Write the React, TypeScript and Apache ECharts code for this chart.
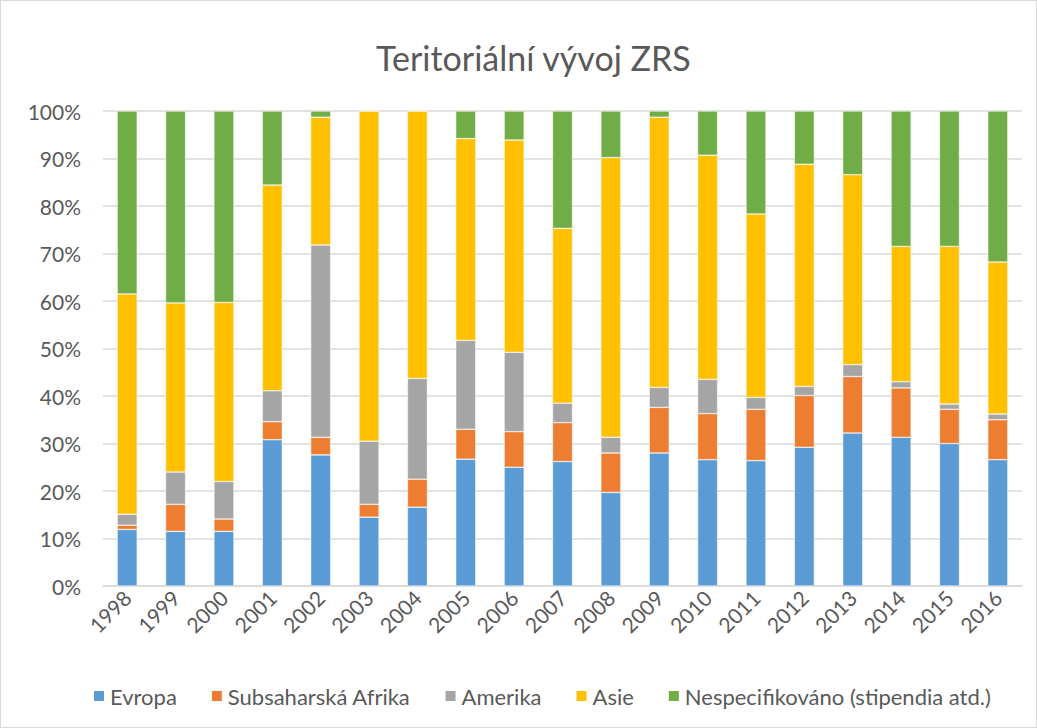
import React, { useEffect, useRef } from "react";
import * as echarts from "echarts";

const years = ["1998","1999","2000","2001","2002","2003","2004","2005","2006","2007","2008","2009","2010","2011","2012","2013","2014","2015","2016"];
const evropa = [11.9,11.5,11.5,30.8,27.6,14.5,16.6,26.7,25.0,26.2,19.7,28.0,26.6,26.4,29.2,32.2,31.3,30.0,26.6];
const afrika = [0.9,5.7,2.6,3.8,3.7,2.7,5.9,6.3,7.5,8.2,8.3,9.6,9.7,10.8,10.9,11.9,10.4,7.2,8.4];
const amerika = [2.3,6.8,7.9,6.5,40.5,13.3,21.2,18.7,16.7,4.1,3.3,4.2,7.2,2.5,1.9,2.5,1.3,1.1,1.2];
const asie = [46.4,35.6,37.7,43.3,26.9,69.5,56.3,42.5,44.7,36.8,58.9,56.9,47.2,38.6,46.8,40.0,28.5,33.2,32.0];
const nespec = [38.5,40.4,40.3,15.6,1.3,0,0,5.8,6.1,24.7,9.8,1.3,9.3,21.7,11.2,13.4,28.5,28.5,31.8];

const seriesNames = ["Evropa","Subsaharská Afrika","Amerika","Asie","Nespecifikováno (stipendia atd.)"];
const seriesData = [evropa, afrika, amerika, asie, nespec];
const colors = ["#5b9bd5","#ed7d31","#a5a5a5","#ffc000","#70ad47"];

export default function App() {
  const ref = useRef<HTMLDivElement>(null);
  useEffect(() => {
    if (!ref.current) return;
    const chart = echarts.init(ref.current, null, { renderer: "svg" });
    const font = "Lato, 'Open Sans', sans-serif";
    chart.setOption({
      animation: false,
      backgroundColor: "#ffffff",
      title: {
        text: "Teritoriální vývoj ZRS",
        left: 370,
        top: 34,
        textStyle: { fontFamily: font, fontSize: 34, fontWeight: "normal", color: "#595959" },
      },
      legend: {
        bottom: 15,
        left: 86,
        itemWidth: 12,
        itemHeight: 12,
        itemGap: 33,
        icon: "rect",
        textStyle: { fontFamily: font, fontSize: 22, color: "#595959" },
        data: seriesNames,
      },
      grid: { left: 102, right: 14, top: 110, bottom: 141, containLabel: false },
      xAxis: {
        type: "category",
        data: years,
        axisLine: { lineStyle: { color: "#d9d9d9", width: 1.5 } },
        axisTick: { show: false },
        axisLabel: { rotate: 45, fontFamily: font, fontSize: 21, color: "#595959", margin: 8 },
      },
      yAxis: {
        type: "value",
        min: 0,
        max: 100,
        interval: 10,
        axisLine: { show: false },
        axisTick: { show: false },
        splitLine: { lineStyle: { color: "#d9d9d9", width: 1.5 } },
        axisLabel: { formatter: "{value}%", fontFamily: font, fontSize: 21, color: "#595959", margin: 22 },
      },
      series: seriesNames.map((name, i) => ({
        name,
        type: "bar",
        stack: "total",
        barWidth: 20,
        data: seriesData[i],
        itemStyle: { color: colors[i], borderColor: "#ffffff", borderWidth: 0.5 },
      })),
    });
    return () => chart.dispose();
  }, []);
  return (
    <div
      ref={ref}
      style={{ position: "fixed", left: 0, top: 0, width: 1037, height: 728, boxSizing: "border-box", border: "1px solid #d9d9d9", background: "#fff" }}
    />
  );
}
